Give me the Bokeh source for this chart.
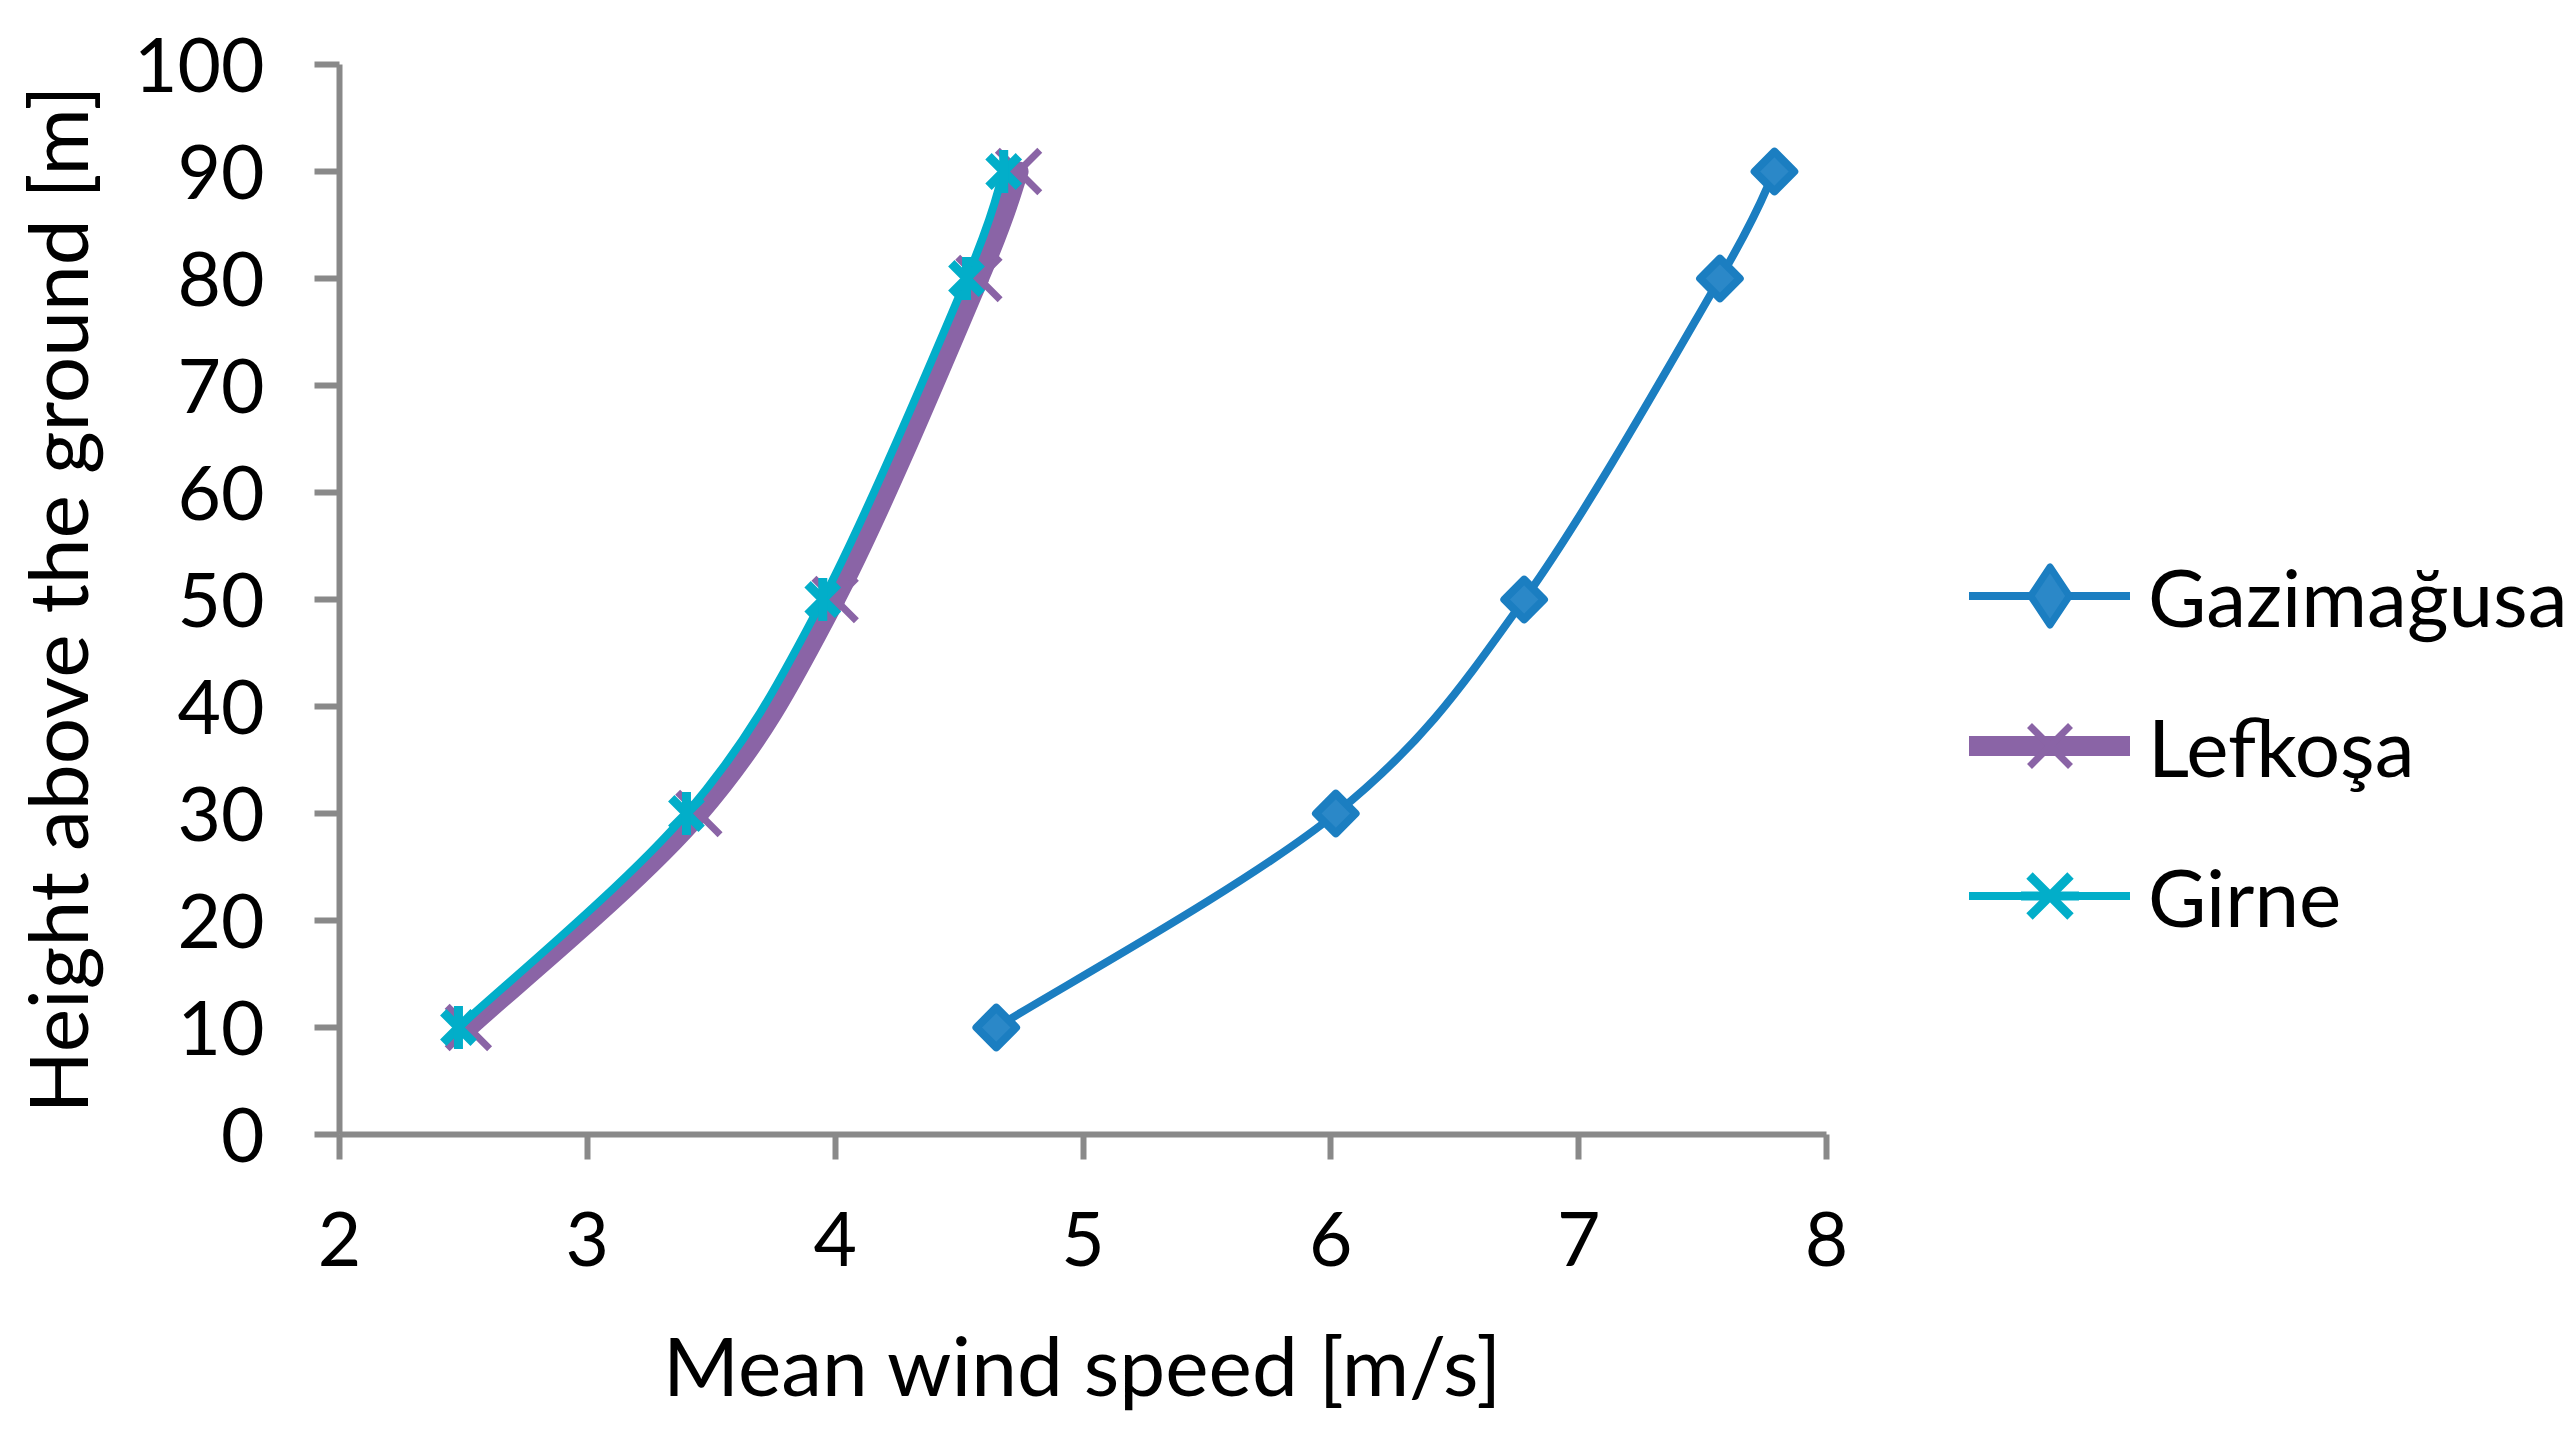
import numpy as np
from bokeh.plotting import figure
from bokeh.models import Range1d, FixedTicker, Legend, LegendItem
from bokeh.embed import file_html
from bokeh.resources import INLINE

# ---- data ----
heights = [10, 30, 50, 80, 90]
gazimagusa = [4.65, 6.02, 6.78, 7.57, 7.79]
lefkosa = [2.52, 3.45, 4.00, 4.58, 4.74]
girne = [2.48, 3.40, 3.95, 4.53, 4.68]
series_names = ["Gazimağusa", "Lefkoşa", "Girne"]
x_ticks = [2, 3, 4, 5, 6, 7, 8]
y_ticks = [0, 10, 20, 30, 40, 50, 60, 70, 80, 90, 100]
x_title = "Mean wind speed [m/s]"
y_title = "Height above the ground [m]"

BLUE = "#1B7EC1"
BLUE_FILL = "#2B88C8"
PURPLE = "#8A64A6"
CYAN = "#02AEC9"
AXIS = "#898989"
FONT = "Lato"


def smooth_segments(xs, ys):
    """Catmull-Rom style cubic Bezier control points between consecutive data points."""
    xs = np.asarray(xs, float)
    ys = np.asarray(ys, float)
    n = len(xs)
    d = dict(x0=[], y0=[], x1=[], y1=[], cx0=[], cy0=[], cx1=[], cy1=[])
    for i in range(n - 1):
        i0 = max(i - 1, 0)
        i3 = min(i + 2, n - 1)
        d["x0"].append(xs[i]); d["y0"].append(ys[i])
        d["x1"].append(xs[i + 1]); d["y1"].append(ys[i + 1])
        d["cx0"].append(xs[i] + (xs[i + 1] - xs[i0]) / 6.0)
        d["cy0"].append(ys[i] + (ys[i + 1] - ys[i0]) / 6.0)
        d["cx1"].append(xs[i + 1] - (xs[i3] - xs[i]) / 6.0)
        d["cy1"].append(ys[i + 1] - (ys[i3] - ys[i]) / 6.0)
    return d


p = figure(
    frame_width=1487, frame_height=1070,
    min_border_left=339, min_border_top=64, min_border_right=729, min_border_bottom=10,
    x_range=Range1d(2, 8), y_range=Range1d(0, 100),
    output_backend="svg", toolbar_location=None,
)
p.xgrid.visible = False
p.ygrid.visible = False
p.outline_line_color = None
p.background_fill_color = "white"
p.border_fill_color = "white"

p.xaxis.ticker = FixedTicker(ticks=x_ticks)
p.yaxis.ticker = FixedTicker(ticks=y_ticks)
p.xaxis.axis_label = x_title
p.yaxis.axis_label = y_title
for ax in (p.xaxis, p.yaxis):
    ax.axis_line_color = AXIS
    ax.axis_line_width = 6
    ax.major_tick_line_color = AXIS
    ax.major_tick_line_width = 6
    ax.major_tick_out = 25
    ax.major_tick_in = 0
    ax.minor_tick_in = 0
    ax.minor_tick_out = 0
    ax.major_label_text_font = FONT
    ax.major_label_text_font_size = "75px"
    ax.major_label_text_color = "black"
    ax.axis_label_text_font = FONT
    ax.axis_label_text_font_size = "82px"
    ax.axis_label_text_font_style = "normal"
    ax.axis_label_text_color = "black"
p.yaxis.major_label_standoff = 50
p.xaxis.major_label_standoff = 52
p.xaxis.axis_label_standoff = 46
p.yaxis.axis_label_standoff = 26

# Gazimağusa
g_line = p.bezier(**smooth_segments(gazimagusa, heights), line_color=BLUE, line_width=8, line_cap="round")
g_mark = p.scatter(gazimagusa, heights, marker="square", angle=np.pi / 4, size=28,
                   fill_color=BLUE_FILL, line_color=BLUE, line_width=8, line_join="round")
g_leg = p.scatter(gazimagusa, heights, marker="diamond", size=10,
                  fill_color=BLUE_FILL, line_color=BLUE, line_width=7, line_join="round", visible=False)

# Lefkoşa
l_line = p.bezier(**smooth_segments(lefkosa, heights), line_color=PURPLE, line_width=20, line_cap="round")
l_mark = p.scatter(lefkosa, heights, marker="x", size=60, line_color=PURPLE, line_width=7)

# Girne
c_line = p.bezier(**smooth_segments(girne, heights), line_color=CYAN, line_width=8, line_cap="round")
c_x = p.scatter(girne, heights, marker="x", size=43, line_color=CYAN, line_width=9)
c_v = p.scatter(girne, heights, marker="dash", angle=np.pi / 2, size=43, line_color=CYAN, line_width=9)

legend = Legend(
    items=[
        LegendItem(label=series_names[0], renderers=[g_line, g_leg]),
        LegendItem(label=series_names[1], renderers=[l_line, l_mark]),
        LegendItem(label=series_names[2], renderers=[c_line, c_x, c_v]),
    ],
    location=(143, 166),
    orientation="vertical",
    glyph_width=161, glyph_height=145,
    label_standoff=18, spacing=5,
    padding=0, margin=0,
    border_line_color=None, background_fill_alpha=0,
    label_text_font=FONT, label_text_font_size="80px", label_text_color="black",
)
p.add_layout(legend, "right")

open("out.html", "w").write(file_html(p, INLINE))
